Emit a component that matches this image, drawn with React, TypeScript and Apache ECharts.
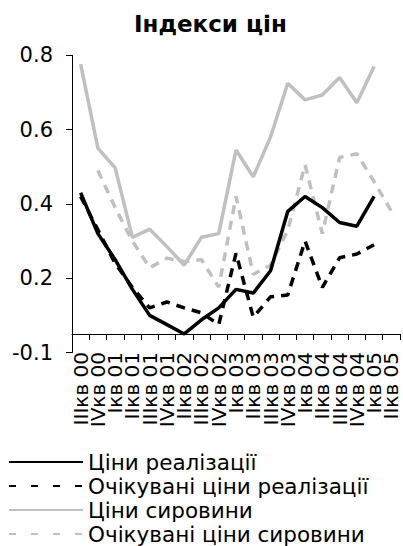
import React, { useEffect, useRef } from "react";
import * as echarts from "echarts";

const categories = [
  "IIIкв 00", "IVкв 00", "Iкв 01", "IIкв 01", "IIIкв 01", "IVкв 01",
  "IIкв 02", "IIIкв 02", "IVкв 02", "Iкв 03", "IIкв 03", "IIIкв 03",
  "IVкв 03", "Iкв 04", "IIкв 04", "IIIкв 04", "IVкв 04", "Iкв 05", "IIкв 05",
];

const salesPrices = [0.43, 0.32, 0.25, 0.17, 0.10, 0.075, 0.05, 0.088, 0.12, 0.17, 0.16, 0.22, 0.38, 0.42, 0.39, 0.35, 0.34, 0.42, null];
const expectedSalesPrices = [0.42, 0.33, 0.24, 0.175, 0.12, 0.136, 0.12, 0.107, 0.075, 0.267, 0.095, 0.15, 0.155, 0.30, 0.175, 0.255, 0.265, 0.29, null];
const rawPrices = [0.776, 0.55, 0.497, 0.31, 0.332, 0.285, 0.235, 0.31, 0.32, 0.545, 0.473, 0.58, 0.725, 0.68, 0.693, 0.74, 0.672, 0.77, null];
const expectedRawPrices = [null, 0.49, 0.39, 0.30, 0.228, 0.254, 0.245, 0.25, 0.176, 0.42, 0.21, 0.235, 0.33, 0.505, 0.32, 0.525, 0.535, 0.46, 0.38];

const yTicks = [0, 0.2, 0.4, 0.6, 0.8];
const yTickLabels = ["-0.1", "0.2", "0.4", "0.6", "0.8"];

const names = ["Ціни реалізації", "Очікувані ціни реалізації", "Ціни сировини", "Очікувані ціни сировини"];

const FONT = "DejaVu Sans";

export default function App() {
  const ref = useRef<HTMLDivElement>(null);
  useEffect(() => {
    document.body.style.margin = "0";
    const chart = echarts.init(ref.current!, null, { renderer: "svg" });
    const dashChart = [9, 7];
    const dashLegend = [7, 15];
    chart.setOption({
      animation: false,
      backgroundColor: "#fff",
      title: {
        text: "Індекси цін",
        left: 129,
        top: 7,
        textStyle: { fontFamily: FONT, fontSize: 23, fontWeight: "bold", color: "#000" },
      },
      grid: { left: 72, right: 3, top: 55.3, bottom: 193.5, containLabel: false, outerBoundsMode: "none" },
      xAxis: {
        type: "category",
        data: categories,
        boundaryGap: true,
        offset: -18.5,
        axisLine: { show: true, onZero: false, lineStyle: { color: "#000", width: 1 } },
        axisTick: { show: true, interval: 0, length: 6, inside: false, lineStyle: { color: "#000", width: 1 } },
        axisLabel: { interval: 0, rotate: 90, margin: 18, fontSize: 20, color: "#000", fontFamily: FONT },
        splitLine: { show: false },
      },
      yAxis: {
        type: "value",
        min: 0,
        max: 0.8,
        interval: 0.2,
        axisLine: { show: true, lineStyle: { color: "#000", width: 1 } },
        axisTick: { show: true, length: 6, lineStyle: { color: "#000", width: 1 } },
        axisLabel: {
          margin: 19,
          fontSize: 21,
          color: "#000",
          fontFamily: FONT,
          formatter: (v: number) => {
            const i = yTicks.findIndex((t) => Math.abs(t - v) < 1e-6);
            return i >= 0 ? yTickLabels[i] : "";
          },
        },
        splitLine: { show: false },
      },
      legend: {
        type: "plain",
        orient: "vertical",
        left: 8,
        top: 450,
        height: 200,
        padding: 0,
        itemWidth: 74,
        itemHeight: 14,
        itemGap: 0,
        itemStyle: { opacity: 0 },
        textStyle: { fontSize: 21.5, lineHeight: 24, color: "#000", fontFamily: FONT },
        data: [
          { name: names[0] },
          { name: names[1], lineStyle: { type: dashLegend } },
          { name: names[2] },
          { name: names[3], lineStyle: { type: dashLegend } },
        ],
      },
      series: [
        {
          name: names[2], type: "line", data: rawPrices, symbol: "none",
          lineStyle: { color: "#c0c0c0", width: 3.5 }, itemStyle: { color: "#c0c0c0" },
        },
        {
          name: names[3], type: "line", data: expectedRawPrices, symbol: "none",
          lineStyle: { color: "#c0c0c0", width: 3.5, type: dashChart }, itemStyle: { color: "#c0c0c0" },
        },
        {
          name: names[1], type: "line", data: expectedSalesPrices, symbol: "none",
          lineStyle: { color: "#000", width: 3.5, type: dashChart }, itemStyle: { color: "#000" },
        },
        {
          name: names[0], type: "line", data: salesPrices, symbol: "none",
          lineStyle: { color: "#000", width: 3.5 }, itemStyle: { color: "#000" },
        },
      ],
    });
    return () => chart.dispose();
  }, []);
  return <div ref={ref} style={{ position: "fixed", left: 0, top: 0, width: 403, height: 546 }} />;
}
